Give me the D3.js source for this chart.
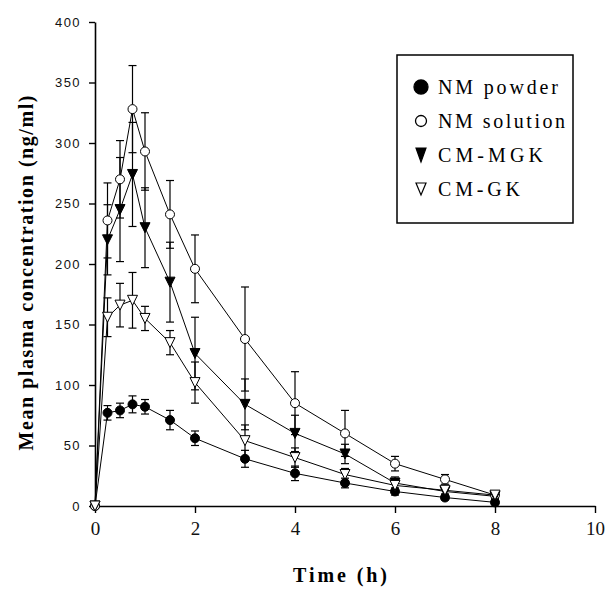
<!DOCTYPE html>
<html>
<head>
<meta charset="utf-8">
<script src="https://cdn.jsdelivr.net/npm/d3@7"></script>
<style>
  body { margin: 0; background: #fff; }
  svg { display: block; }
</style>
</head>
<body>
<div id="chart"></div>
<script>
// Data
const times = [0, 0.25, 0.5, 0.75, 1, 1.5, 2, 3, 4, 5, 6, 7, 8];
const nmPowder = [0, 77, 79, 84, 82, 71, 56, 39, 27, 19, 12, 7, 3];
const nmPowderSd = [0, 6, 6, 7, 6, 8, 6, 7, 6, 4, 3, 2, 2];
const nmSolution = [0, 236, 270, 328, 293, 241, 196, 138, 85, 60, 35, 22, 9];
const nmSolutionSd = [0, 31, 32, 36, 32, 28, 28, 43, 26, 19, 6, 4, 3];
const cmMgk = [0, 220, 245, 274, 230, 185, 126, 84, 60, 43, 19, 12, 8];
const cmMgkSd = [0, 29, 43, 43, 33, 33, 30, 21, 15, 8, 5, 3, 2];
const cmGk = [0, 156, 166, 170, 155, 135, 102, 54, 40, 26, 17, 13, 9];
const cmGkSd = [0, 16, 18, 23, 10, 10, 17, 13, 8, 5, 4, 3, 3];
const seriesNames = ["NM powder", "NM solution", "CM-MGK", "CM-GK"];
const xTicks = [0, 2, 4, 6, 8, 10];
const yTicks = [0, 50, 100, 150, 200, 250, 300, 350, 400];

const width = 612, height = 589;
const svg = d3.select("#chart").append("svg")
  .attr("width", width)
  .attr("height", height);

const x = d3.scaleLinear().domain([0, 10]).range([95, 595]);
const y = d3.scaleLinear().domain([0, 400]).range([506, 22]);

// marker shapes
const downTri = (w, h) => `M${-w / 2},${-h / 2}L${w / 2},${-h / 2}L0,${h / 2}Z`;
const series = [
  { name: seriesNames[0], values: nmPowder, sd: nmPowderSd, shape: "circle", fill: "#000" },
  { name: seriesNames[1], values: nmSolution, sd: nmSolutionSd, shape: "circle", fill: "#fff" },
  { name: seriesNames[2], values: cmMgk, sd: cmMgkSd, shape: "tri", fill: "#000" },
  { name: seriesNames[3], values: cmGk, sd: cmGkSd, shape: "tri", fill: "#fff" }
];

// axes
const yAxis = svg.append("g")
  .attr("transform", `translate(${x(0)},0)`)
  .call(d3.axisLeft(y).tickValues(yTicks).tickSize(6).tickSizeOuter(0).tickPadding(8));
yAxis.select(".domain").attr("stroke-width", 1.6);
yAxis.selectAll(".tick line").attr("stroke-width", 1.4);
yAxis.selectAll("text")
  .attr("font-family", "Liberation Sans, Arial, sans-serif")
  .attr("font-size", 13)
  .attr("letter-spacing", 1.4)
  .attr("fill", "#111");

const xAxis = svg.append("g")
  .attr("transform", `translate(0,${y(0)})`)
  .call(d3.axisBottom(x).tickValues(xTicks).tickSize(7).tickSizeOuter(0).tickPadding(9));
xAxis.select(".domain").attr("stroke-width", 1.6);
xAxis.selectAll(".tick line").attr("stroke-width", 1.4);
xAxis.selectAll("text")
  .attr("font-family", "Liberation Serif, Times New Roman, serif")
  .attr("font-size", 19)
  .attr("fill", "#111");

// axis titles
svg.append("text")
  .attr("x", 340).attr("y", 582)
  .attr("text-anchor", "middle")
  .attr("font-family", "Liberation Serif, Times New Roman, serif")
  .attr("font-weight", "bold")
  .attr("font-size", 20)
  .attr("textLength", 94)
  .attr("lengthAdjust", "spacing")
  .text("Time (h)");

svg.append("text")
  .attr("transform", "translate(33,273) rotate(-90)")
  .attr("text-anchor", "middle")
  .attr("font-family", "Liberation Serif, Times New Roman, serif")
  .attr("font-weight", "bold")
  .attr("font-size", 20)
  .attr("textLength", 355)
  .attr("lengthAdjust", "spacing")
  .text("Mean plasma concentration (ng/ml)");

const line = d3.line()
  .x((d, i) => x(times[i]))
  .y(d => y(d));

// lines
series.forEach(s => {
  svg.append("path")
    .datum(s.values)
    .attr("d", line)
    .attr("fill", "none")
    .attr("stroke", "#000")
    .attr("stroke-width", 1);
});

// error bars
series.forEach(s => {
  const g = svg.append("g").attr("stroke", "#000").attr("stroke-width", 1.2);
  s.values.forEach((v, i) => {
    if (!s.sd[i]) return;
    const cx = x(times[i]);
    const top = y(v + s.sd[i]);
    const bot = y(v - s.sd[i]);
    g.append("line").attr("x1", cx).attr("x2", cx).attr("y1", top).attr("y2", bot);
    g.append("line").attr("x1", cx - 4).attr("x2", cx + 4).attr("y1", top).attr("y2", top);
    g.append("line").attr("x1", cx - 4).attr("x2", cx + 4).attr("y1", bot).attr("y2", bot);
  });
});

// markers
series.forEach(s => {
  const g = svg.append("g");
  s.values.forEach((v, i) => {
    const cx = x(times[i]), cy = y(v);
    if (s.shape === "circle") {
      g.append("circle").attr("cx", cx).attr("cy", cy).attr("r", 4.5)
        .attr("fill", s.fill).attr("stroke", "#000").attr("stroke-width", 1);
    } else {
      g.append("path").attr("d", downTri(10, 10))
        .attr("transform", `translate(${cx},${cy})`)
        .attr("fill", s.fill).attr("stroke", "#000").attr("stroke-width", 1);
    }
  });
});

// legend
const legend = svg.append("g");
legend.append("rect")
  .attr("x", 397).attr("y", 55).attr("width", 176).attr("height", 168)
  .attr("fill", "#fff").attr("stroke", "#000").attr("stroke-width", 1.5);
const legendWidths = [120, 127, 105, 82];
series.forEach((s, i) => {
  const cy = 87 + i * 34;
  if (s.shape === "circle") {
    legend.append("circle").attr("cx", 421).attr("cy", cy)
      .attr("r", s.fill === "#000" ? 7 : 5.5)
      .attr("fill", s.fill).attr("stroke", "#000").attr("stroke-width", 1.3);
  } else {
    legend.append("path").attr("d", downTri(s.fill === "#000" ? 10 : 10, s.fill === "#000" ? 14 : 12))
      .attr("transform", `translate(421,${cy})`)
      .attr("fill", s.fill).attr("stroke", "#000").attr("stroke-width", 1.2);
  }
  legend.append("text")
    .attr("x", 438).attr("y", cy + 7)
    .attr("font-family", "Liberation Serif, Times New Roman, serif")
    .attr("font-size", 20)
    .attr("textLength", legendWidths[i])
    .attr("lengthAdjust", "spacing")
    .text(s.name);
});
</script>
</body>
</html>
